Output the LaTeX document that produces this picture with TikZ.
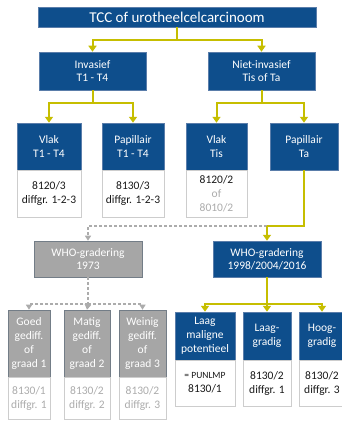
\documentclass[tikz,border=0pt]{standalone}
\usepackage{fontspec}
\setmainfont{Carlito}
\usetikzlibrary{arrows.meta}
\definecolor{tccblue}{RGB}{14,78,140}
\definecolor{tccedge}{RGB}{90,125,170}
\definecolor{tccyel}{RGB}{198,190,0}
\definecolor{tccgray}{RGB}{166,166,166}
\definecolor{tccgedge}{RGB}{115,125,135}
\definecolor{tccbord}{RGB}{205,205,205}
\definecolor{tcclt}{RGB}{172,172,172}
\definecolor{tcctxt}{RGB}{25,25,25}
\tikzset{
  hd/.style={rectangle, fill=tccblue, draw=tccedge, line width=0.5pt, text=white, inner sep=0pt, align=center, font=\fontsize{11.5}{13.3}\selectfont},
  ghd/.style={rectangle, fill=tccgray, draw=tccgedge, line width=0.6pt, text=white, inner sep=0pt, align=center, font=\fontsize{11.5}{14.2}\selectfont},
  bd/.style={rectangle, fill=white, draw=tccbord, line width=0.6pt, text=tcctxt, inner sep=0pt, align=center, font=\fontsize{11.5}{14}\selectfont},
  gbd/.style={bd, text=tcclt},
  yl/.style={draw=tccyel, line width=2pt},
  yla/.style={yl, -{Triangle[width=8pt,length=6pt]}},
  gl/.style={draw=tcclt, line width=1.2pt, dash pattern=on 3pt off 2pt},
  gla/.style={gl, -{Triangle[width=6pt,length=5pt]}},
}
\begin{document}
\begin{tikzpicture}[x=1pt,y=-1pt]
\useasboundingbox (0,0) rectangle (342,428);
\clip (0,0) rectangle (342,428);
\fill[white] (0,0) rectangle (342,428);
% top
\node[hd, minimum width=278pt, minimum height=20pt, font=\fontsize{15}{17}\selectfont] (title) at (177,17) {TCC of urotheelcelcarcinoom};
\node[hd, minimum width=107pt, minimum height=38pt] (inv) at (92.5,71) {Invasief\\T1 - T4};
\node[hd, minimum width=107pt, minimum height=38pt] (niet) at (261.5,71) {Niet-invasief\\Tis of Ta};
% second level
\node[hd, minimum width=64pt, minimum height=47pt] (vlak1) at (49,146.5) {Vlak\\T1 - T4};
\node[bd, minimum width=64pt, minimum height=47pt] (vlak1b) at (49,193.5) {8120/3\\diffgr. 1-2-3};
\node[hd, minimum width=62pt, minimum height=47pt] (pap1) at (133,146.5) {Papillair\\T1 - T4};
\node[bd, minimum width=62pt, minimum height=47pt] (pap1b) at (133,193.5) {8130/3\\diffgr. 1-2-3};
\node[hd, minimum width=61pt, minimum height=47pt] (vlak2) at (216.5,146.5) {Vlak\\Tis};
\node[bd, minimum width=61pt, minimum height=47pt] (vlak2b) at (216.5,193.5) {8120/2\\\textcolor{tcclt}{of}\\\textcolor{tcclt}{8010/2}};
\node[hd, minimum width=68pt, minimum height=47pt] (pap2) at (304,146.5) {Papillair\\Ta};
% WHO
\node[ghd, minimum width=108pt, minimum height=36pt, font=\fontsize{11.5}{13.3}\selectfont] (who1) at (88,259) {WHO-gradering\\1973};
\node[hd, minimum width=108pt, minimum height=36pt] (who2) at (267,259) {WHO-gradering\\1998/2004/2016};
% gray grades
\node[ghd, minimum width=42pt, minimum height=67pt] (goed) at (29,343.5) {Goed\\gediff.\\of\\graad 1};
\node[gbd, minimum width=42pt, minimum height=42pt] (goedb) at (29,398) {8130/1\\diffgr. 1};
\node[ghd, minimum width=46pt, minimum height=67pt] (matig) at (87,343.5) {Matig\\gediff.\\of\\graad 2};
\node[gbd, minimum width=46pt, minimum height=42pt] (matigb) at (87,398) {8130/2\\diffgr. 2};
\node[ghd, minimum width=47pt, minimum height=67pt] (wein) at (142.5,343.5) {Weinig\\gediff.\\of\\graad 3};
\node[gbd, minimum width=47pt, minimum height=42pt] (weinb) at (142.5,398) {8130/2\\diffgr. 3};
% blue grades
\node[hd, minimum width=60pt, minimum height=48pt, font=\fontsize{11.5}{14}\selectfont] (lmp) at (205,336) {Laag\\maligne\\potentieel};
\node[bd, minimum width=60pt, minimum height=46pt] (lmpb) at (205,383) {{\fontsize{9.5}{14}\selectfont = PUNLMP}\\8130/1};
\node[hd, minimum width=48pt, minimum height=48pt, font=\fontsize{11.5}{14}\selectfont] (laag) at (267,336) {Laag-\\gradig};
\node[bd, minimum width=48pt, minimum height=46pt] (laagb) at (267,383) {8130/2\\diffgr. 1};
\node[hd, minimum width=46pt, minimum height=48pt, font=\fontsize{11.5}{14}\selectfont] (hoog) at (322,336) {Hoog-\\gradig};
\node[bd, minimum width=46pt, minimum height=46pt] (hoogb) at (322,383) {8130/2\\diffgr. 3};
% connectors
\coordinate (j1) at (177,40);
\draw[yl] (title.south) -- (j1);
\draw[yla] (j1) -| (inv.north);
\draw[yla] (j1) -| (niet.north);
\coordinate (j2) at (92.5,103);
\draw[yl] (inv.south) -- (j2);
\draw[yla] (j2) -| (vlak1.north);
\draw[yla] (j2) -| (pap1.north);
\coordinate (j3) at (261.5,103);
\draw[yl] (niet.south) -- (j3);
\draw[yla] (j3) -| (vlak2.north);
\draw[yla] (j3) -| (pap2.north);
\coordinate (j4) at (267,226);
\draw[gla] (j4) -| (who1.north);
\draw[yl] (pap2.south) |- (j4);
\draw[yla] (j4) -- (who2.north);
\coordinate (j5) at (88,304);
\draw[gl, line width=1.8pt] (who1.south) -- (j5);
\draw[gla] (j5) -| (goed.north);
\draw[gla] (j5) -- (matig.north);
\draw[gla] (j5) -| (wein.north);
\coordinate (j6) at (267,304);
\draw[yl] (who2.south) -- (j6);
\draw[yla] (j6) -| (lmp.north);
\draw[yla] (j6) -- (laag.north);
\draw[yla] (j6) -| (hoog.north);
\end{tikzpicture}
\end{document}
